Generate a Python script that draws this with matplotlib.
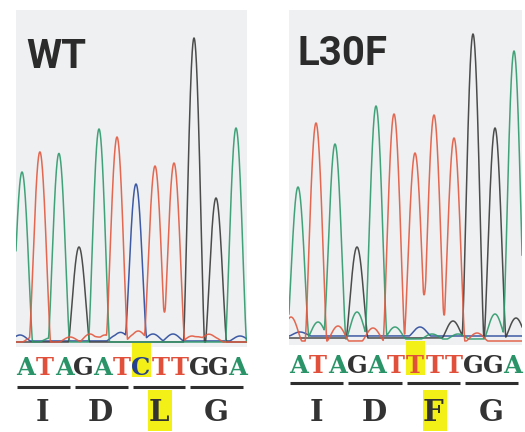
import numpy as np
import matplotlib
matplotlib.use("Agg")
import matplotlib.pyplot as plt
from matplotlib.patches import Rectangle

# ---- data ----
# base calls, peak scan positions and peak heights (signal above baseline)
wt_bases = list("ATAGATCTTGGA")
wt_pos = [22, 40, 59, 79, 99, 117, 136, 155, 174, 194, 216, 236]
wt_height = [170, 188, 188, 95, 213, 205, 157, 176, 179, 304, 144, 214]

mut_bases = list("ATAGATTTTGGA")
mut_pos = [298, 316, 335, 357, 376, 394, 415, 434, 454, 473, 495, 514]
mut_height = [152, 218, 195, 91, 233, 227, 188, 226, 203, 304, 210, 288]

# small background peaks (channel, position, height)
wt_noise_base = ["C", "T", "A", "T", "T", "T", "C", "C", "T", "T", "C", "C", "T", "T", "T", "C"]
wt_noise_pos = [20, 33, 50, 70, 90, 105, 117, 125, 135, 143, 153, 173, 192, 205, 213, 240]
wt_noise_height = [6, 5, 4, 5, 8, 7, 6, 5, 8, 6, 7, 7, 6, 5, 5, 5]

mut_noise_base = ["T", "A", "T", "A", "T", "A", "C", "A", "A", "G", "T", "A", "G", "C"]
mut_noise_pos = [291, 318, 338, 357, 373, 395, 420, 432, 458, 453, 477, 495, 516, 300]
mut_noise_height = [24, 17, 15, 27, 13, 12, 9, 5, 5, 17, 8, 25, 20, 4]

codons = ["I", "D", "L", "G"]
mut_codons = ["I", "D", "F", "G"]

colors = {"A": "#2e9a6c", "T": "#e2583f", "G": "#3a3a3a", "C": "#2b4a9c"}
text_colors = {"A": "#2a9468", "T": "#e0503a", "G": "#333333", "C": "#24408f"}


def channel_trace(x, pos, height, half_w):
    y = np.zeros_like(x)
    for p, h in zip(pos, height):
        u = np.clip((x - p) / half_w, -1, 1)
        y += h * np.cos(np.pi * u / 2) ** 1.3
    return y


def draw_panel(ax, bases, pos, height, nb, npos, nh, half_w, xr, offsets):
    x = np.linspace(xr[0] - 20, xr[1] + 20, 3000)
    for ch in ["C", "G", "A", "T"]:
        p = [pp for b, pp in zip(bases, pos) if b == ch]
        h = [hh for b, hh in zip(bases, height) if b == ch]
        p += [pp for b, pp in zip(nb, npos) if b == ch]
        h += [hh for b, hh in zip(nb, nh) if b == ch]
        y = channel_trace(x, p, h, half_w) + offsets[ch]
        ax.plot(x, y, color=colors[ch], lw=1.1, alpha=0.9)
    ax.set_xlim(*xr)
    for s in ax.spines.values():
        s.set_visible(False)
    ax.set_xticks([])
    ax.set_yticks([])
    ax.set_facecolor("#eef0f1")


W, H = 525, 432
fig = plt.figure(figsize=(5.25, 4.32), dpi=100)


def px_axes(x0, y0, x1, y1):
    return fig.add_axes([x0 / W, 1 - y1 / H, (x1 - x0) / W, (y1 - y0) / H])


ax1 = px_axes(16, 10, 247, 347)
draw_panel(ax1, wt_bases, wt_pos, wt_height, wt_noise_base, wt_noise_pos,
           wt_noise_height, 10.5, (16, 247), {"A": 0, "T": 0, "G": 0, "C": 1})
ax1.set_ylim(-5, 332)

ax2 = px_axes(289, 10, 522, 345)
draw_panel(ax2, mut_bases, mut_pos, mut_height, mut_noise_base, mut_noise_pos,
           mut_noise_height, 10.8, (289, 522), {"A": -1, "T": -3, "G": 0, "C": 2})
ax2.set_ylim(-7, 328)

# ---- annotation layer in pixel coordinates ----
ax = fig.add_axes([0, 0, 1, 1])
ax.set_xlim(0, W)
ax.set_ylim(H, 0)
ax.axis("off")
ax.patch.set_alpha(0)

title_font = ["Roboto", "Liberation Sans", "DejaVu Sans"]
ax.text(26, 68, "WT", fontsize=29, fontweight="bold", family=title_font,
        color="#2b2b2b", va="baseline", ha="left")
ax.text(298, 65, "L30F", fontsize=29, fontweight="bold", family=title_font,
        color="#2b2b2b", va="baseline", ha="left")


def seq_row(x0, x1, bases, aa, hl_idx, y_seq, y_line, y_aa):
    pitch = (x1 - x0) / len(bases)
    # highlight of mutated base and residue
    ax.add_patch(Rectangle((x0 + hl_idx * pitch, y_seq - 32), pitch, 34,
                           color="#f2f016", zorder=1, lw=0))
    k = hl_idx // 3
    cx = x0 + (3 * k + 1.5) * pitch
    ax.add_patch(Rectangle((cx - 12, y_aa - 31), 24, 41,
                           color="#f2f016", zorder=1, lw=0))
    for i, b in enumerate(bases):
        ax.text(x0 + (i + 0.5) * pitch, y_seq, b, ha="center", va="baseline",
                fontsize=17.5, fontweight="bold", family="DejaVu Serif",
                color=text_colors[b], zorder=3)
    for j, a in enumerate(aa):
        s = x0 + 3 * j * pitch
        ax.plot([s + 1, s + 3 * pitch - 4], [y_line, y_line], color="#2e2e2e",
                lw=2.2, solid_capstyle="butt", zorder=3)
        ax.text(s + 1.5 * pitch - 2, y_aa, a, ha="center", va="baseline",
                fontsize=21, fontweight="bold", family="DejaVu Serif",
                color="#333333", zorder=3)


seq_row(16, 247, wt_bases, codons, 6, 375, 387, 421)
seq_row(289, 522, mut_bases, mut_codons, 6, 373, 383, 421)

fig.savefig("out.png", dpi=100)
